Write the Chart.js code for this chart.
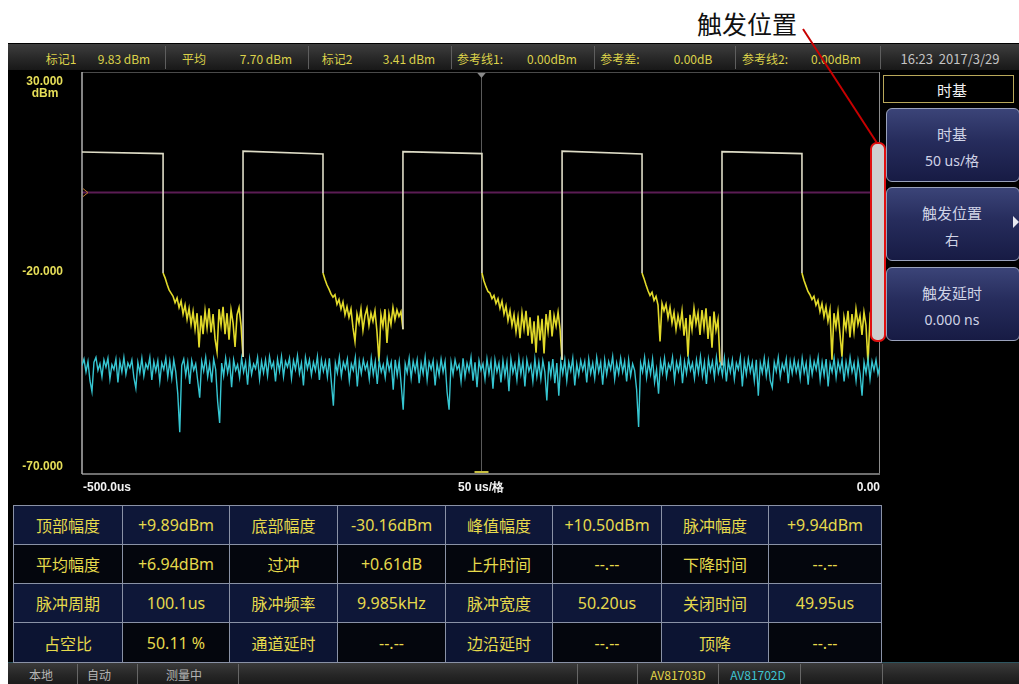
<!DOCTYPE html>
<html><head><meta charset="utf-8">
<script src="https://cdn.jsdelivr.net/npm/chart.js@4.4.1/dist/chart.umd.min.js"></script>
<style>
html,body{margin:0;padding:0;background:#fff;width:1019px;height:684px;overflow:hidden;font-family:"Noto Sans CJK SC","Noto Sans",sans-serif;}
#screen{position:absolute;left:8px;top:43px;width:1011px;height:641px;background:#000;}
#topbar{position:absolute;left:8px;top:44px;width:1011px;height:26px;background:linear-gradient(#3e3e3e,#282828 55%,#181818);}
#botbar{position:absolute;left:8px;top:662px;width:1011px;height:22px;background:linear-gradient(#3a3a3a,#262626 55%,#1a1a1a);border-top:1px solid #2e5560;}
.t{position:absolute;white-space:nowrap;transform:translate(-50%,-50%);}
.sep{position:absolute;width:1px;background:#5e5e5e;}
.cell{position:absolute;box-sizing:border-box;border:1px solid #8a92a6;color:#e6da4c;font-size:16px;display:flex;align-items:center;justify-content:center;}
.val{font-family:"Noto Sans",sans-serif;}
.btn{position:absolute;left:886px;width:134px;box-sizing:border-box;border:1.5px solid #9aa2bc;border-radius:6px;background:linear-gradient(#3b4478,#262c5c 45%,#171b44);color:#cfd2e4;font-size:15px;}
#chart{position:absolute;left:8px;top:70px;}
#label{position:absolute;left:697px;top:5px;font-size:25px;color:#111;font-family:"Noto Sans CJK SC",serif;}
svg{position:absolute;left:0;top:0;}
</style></head>
<body>
<div id="screen"></div>
<div id="topbar"></div>
<div id="botbar"></div>
<canvas id="chart" width="873" height="430"></canvas>
<div id="label">触发位置</div>
<script>
// ---------------- data ----------------
const xRangeUs = [-500, 0];
const yRangeDbm = [-70, 30];
const yTickValues = [30, -20, -70];
const yTickLabels = ['30.000', '-20.000', '-70.000'];
const yUnit = 'dBm';
const xTickValues = [-500, -250, 0];
const xTickLabels = ['-500.0us', '50 us/格', '0.00'];
const refLineDbm = 0;
const centerMarkerUs = -250;

// yellow trace (AV81703D): pulse edges and levels
const fallTimesUs = [-449.2, -349.0, -249.4, -149.1, -48.9];
const riseTimesUs = [-399.1, -298.9, -199.2, -99.0];
const pulseTopStartDbm = [10.1, 10.3, 10.2, 10.3, 10.2];
const pulseTopEndDbm = [9.7, 9.6, 9.7, 9.6, 9.7];
// samples of the off-time after each falling edge (dBm)
const tail1 = [-20,-21.2,-22.8,-24.2,-25.0,-25.8,-27.4,-26.2,-28.6,-27.0,-30.2,-28.0,-31.5,-28.8,-32.8,-29.6,-34.0,-30.0,-38.5,-30.6,-35.2,-29.4,-33.6,-28.8,-34.8,-30.2,-36.4,-39.6,-29.0,-33.0,-28.4,-35.2,-30.0,-36.6,-29.2,-32.4,-38.4,-30.4,-28.6,-33.0,-40.9];
const tail2 = [-20,-21.6,-23.0,-24.0,-25.2,-26.0,-25.4,-27.8,-26.6,-29.0,-27.2,-30.4,-28.4,-31.0,-29.0,-33.6,-37.0,-30.2,-32.4,-29.0,-34.2,-30.6,-28.8,-33.0,-30.0,-32.0,-29.4,-34.6,-42.0,-30.4,-33.2,-29.0,-37.4,-30.2,-32.8,-28.6,-31.6,-29.2,-30.8,-29.6,-34.0];
const tail3 = [-20,-22.0,-23.4,-24.6,-25.0,-26.4,-25.6,-27.6,-26.4,-28.8,-27.0,-30.2,-28.2,-31.8,-29.4,-33.0,-30.4,-34.6,-31.0,-36.2,-30.0,-33.8,-29.4,-35.6,-31.0,-37.6,-32.0,-39.8,-30.6,-36.8,-31.4,-40.0,-30.2,-34.4,-29.2,-35.8,-30.6,-33.2,-29.8,-34.0,-41.6];
const tail4 = [-20,-21.4,-23.0,-24.4,-25.6,-24.8,-26.8,-25.8,-28.0,-37.0,-27.6,-29.4,-27.8,-31.2,-28.6,-32.4,-29.8,-34.0,-30.6,-33.2,-29.4,-35.6,-31.2,-40.8,-30.4,-34.0,-28.8,-32.6,-30.0,-35.4,-29.2,-33.6,-28.8,-36.4,-30.8,-38.6,-29.6,-34.2,-31.6,-42.0,-43.0];
const tail5 = [-20,-21.8,-23.2,-24.6,-25.4,-26.6,-25.8,-28.0,-26.8,-29.6,-27.6,-30.8,-28.4,-32.0,-29.2,-41.6,-30.0,-33.4,-29.6,-35.2,-40.8,-31.0,-33.8,-29.4,-36.0,-30.2,-34.6,-29.0,-32.8,-30.6,-35.4,-29.8,-33.0,-42.4,-31.2,-34.0,-30.0,-36.2,-31.0,-33.6];

// cyan trace (AV81702D): noise floor, one sample every cyanStepUs from -500 us
const cyanStepUs = 1.25;
const cyanDbm = [
-43.0,-41.4,-44.6,-42.0,-46.8,-49.5,-42.2,-41.0,-44.2,-42.6,-45.8,-41.6,-43.4,-41.2,-46.4,-42.8,-44.0,-41.4,-47.2,-42.0,
-44.6,-41.0,-45.2,-42.4,-43.6,-41.6,-46.0,-48.7,-42.2,-44.8,-41.2,-45.6,-42.6,-43.8,-41.0,-46.6,-42.0,-44.4,-41.8,-47.0,
-42.4,-44.0,-41.2,-45.8,-42.0,-46.2,-41.6,-44.6,-50.0,-59.6,-43.0,-41.4,-45.4,-42.2,-47.6,-41.8,-44.2,-42.6,-46.8,-51.0,
-42.0,-44.4,-41.0,-45.8,-42.6,-47.2,-41.4,-44.0,-52.0,-57.3,-42.4,-45.6,-41.2,-44.8,-42.0,-48.4,-41.6,-44.2,-42.8,-46.0,
-41.2,-44.6,-42.2,-47.8,-41.4,-45.2,-42.6,-43.8,-41.0,-46.4,-42.0,-44.8,-41.6,-45.6,-40.8,-43.6,-42.2,-47.0,-41.4,-44.4,
-40.8,-45.8,-42.0,-43.4,-41.2,-46.2,-41.8,-44.0,-40.6,-45.0,-42.4,-48.0,-41.0,-43.8,-41.6,-45.4,-42.2,-44.2,-40.8,-46.6,
-41.6,-44.4,-42.0,-45.8,-41.2,-47.2,-53.0,-42.4,-44.8,-41.0,-45.6,-42.2,-43.8,-41.4,-46.8,-42.6,-44.2,-41.0,-48.2,-42.0,
-45.0,-41.6,-44.0,-42.4,-46.4,-41.2,-45.2,-42.0,-47.6,-41.8,-44.6,-42.8,-46.0,-41.4,-44.2,-42.2,-49.0,-41.6,-45.4,-42.0,
-47.8,-54.0,-42.6,-44.8,-41.2,-46.2,-42.0,-44.4,-41.6,-47.4,-42.4,-45.0,-41.0,-46.6,-42.2,-44.0,-41.8,-48.0,-42.6,-45.4,
-41.4,-44.6,-42.0,-49.6,-54.0,-42.2,-45.2,-41.6,-44.0,-42.8,-47.0,-41.2,-45.8,-42.4,-44.4,-41.0,-46.8,-42.2,-48.4,-41.8,
-44.2,-42.6,-46.4,-41.4,-45.0,-42.0,-48.8,-41.6,-44.6,-42.4,-47.2,-41.8,-45.6,-42.2,-49.4,-41.4,-44.8,-42.6,-46.6,-41.2,
-45.2,-42.0,-48.2,-41.6,-44.4,-42.8,-47.0,-41.4,-45.8,-42.2,-46.4,-41.8,-44.6,-51.7,-42.0,-45.6,-41.4,-47.4,-42.4,-50.5,
-42.0,-45.0,-41.6,-46.8,-42.2,-44.4,-41.2,-48.0,-42.6,-45.4,-41.8,-44.2,-42.0,-47.2,-41.4,-45.0,-42.4,-46.2,-41.0,-44.6,
-42.2,-47.8,-41.6,-45.2,-42.0,-44.0,-40.8,-46.4,-42.4,-45.0,-41.2,-44.6,-42.0,-47.0,-41.6,-45.6,-42.6,-44.2,-49.0,-58.3,
-42.4,-44.6,-41.0,-46.0,-42.2,-45.2,-41.4,-47.2,-44.0,-50.0,-42.0,-44.8,-41.2,-45.8,-42.6,-44.0,-41.0,-46.6,-42.2,-44.4,
-41.4,-47.4,-42.0,-45.0,-41.2,-44.2,-42.4,-46.2,-41.6,-44.8,-40.8,-45.6,-42.2,-47.6,-41.4,-44.4,-42.0,-46.0,-41.0,-44.8,
-42.6,-45.4,-41.2,-47.0,-42.0,-44.6,-41.6,-46.4,-42.4,-44.0,-41.0,-48.2,-42.0,-45.2,-41.4,-44.6,-42.2,-46.8,-41.6,-50.5,
-42.4,-44.8,-41.2,-45.6,-42.0,-46.8,-48.5,-42.2,-44.4,-41.0,-45.8,-42.6,-44.2,-41.4,-47.4,-42.0,-45.0,-41.6,-44.6,-42.2,
-46.2,-41.2,-44.8,-42.4,-47.8,-41.6,-45.2,-42.0,-44.0,-41.0,-46.6,-42.2,-45.4,-41.4,-48.2,-42.6,-44.6,-41.2,-46.0,-42.0,
-44.4,-41.6,-47.0,-42.2,-45.2,-41.0,-44.6,-42.4,-46.8,-41.8,-45.0,-50.5,-42.2,-44.8,-41.4,-46.4,-42.0,-44.2,-41.6,-45.2,
-43.0];

// status texts
const statusItems = [['标记1',61],['9.83 dBm',124],['平均',194],['7.70 dBm',266],['标记2',337],['3.41 dBm',409],['参考线1:',480],['0.00dBm',552],['参考差:',620],['0.00dB',693],['参考线2:',765],['0.00dBm',836]];
const statusSeps = [165,308,451,594,735,880];
const clockText = '16:23&nbsp;&nbsp;2017/3/29';
const tableRows = [
 ['顶部幅度','+9.89dBm','底部幅度','-30.16dBm','峰值幅度','+10.50dBm','脉冲幅度','+9.94dBm'],
 ['平均幅度','+6.94dBm','过冲','+0.61dB','上升时间','--.--','下降时间','--.--'],
 ['脉冲周期','100.1us','脉冲频率','9.985kHz','脉冲宽度','50.20us','关闭时间','49.95us'],
 ['占空比','50.11 %','通道延时','--.--','边沿延时','--.--','顶降','--.--']
];
const bottomItems = [['本地',41,'#b4b4b4'],['自动',99,'#b4b4b4'],['测量中',184,'#b4b4b4'],['AV81703D',678,'#e2d448'],['AV81702D',758,'#3ec4d2']];
const bottomSeps = [77,137,238,577,637,718,800,882];

// ---------------- layout of the HTML parts ----------------
const body = document.body;
function add(html){ body.insertAdjacentHTML('beforeend', html); }
statusItems.forEach(([s,x])=>add(`<div class="t" style="left:${x}px;top:58px;font-size:12px;color:#dcd24a">${s}</div>`));
statusSeps.forEach(x=>add(`<div class="sep" style="left:${x}px;top:46px;height:23px"></div>`));
add(`<div class="t" style="left:950px;top:58px;font-size:13px;color:#c4c4c4">${clockText}</div>`);

const colX = [13,122,229,337,445,552,661,768,881];
const rowY = [505,544,583,622,662];
tableRows.forEach((row,r)=>row.forEach((txt,c)=>{
  const isLabel = c%2===0;
  let bg = (r===0||r===2) ? '#0e1738' : (r===3 && isLabel ? '#0c1432' : '#04060d');
  add(`<div class="cell ${isLabel?'':'val'}" style="left:${colX[c]}px;top:${rowY[r]}px;width:${colX[c+1]-colX[c]+1}px;height:${rowY[r+1]-rowY[r]+1}px;background:${bg}">${txt}</div>`);
}));
bottomItems.forEach(([s,x,col])=>add(`<div class="t" style="left:${x}px;top:674px;font-size:12px;color:${col}">${s}</div>`));
bottomSeps.forEach(x=>add(`<div class="sep" style="left:${x}px;top:664px;height:20px;background:#666"></div>`));

// right menu
add(`<div style="position:absolute;left:883px;top:75px;width:131px;height:28px;box-sizing:border-box;border:1.5px solid #b9a85a;background:#000"></div>`);
add(`<div class="t" style="left:952px;top:89px;font-size:15px;color:#f2f2f2">时基</div>`);
[[108,74,'时基','50 us/格'],[187,74,'触发位置','右'],[267,74,'触发延时','0.000 ns']].forEach(([y,h,a,b])=>{
  add(`<div class="btn" style="top:${y}px;height:${h}px"></div>`);
  add(`<div class="t" style="left:952px;top:${y+25}px;font-size:15px;color:#d0d3e6">${a}</div>`);
  add(`<div class="t" style="left:952px;top:${y+52}px;font-size:14px;color:#d0d3e6;font-family:'Noto Sans','Noto Sans CJK SC'">${b}</div>`);
});
add(`<svg width="1019" height="684"><polygon points="1013,216 1019,222 1013,228" fill="#e8e8f0"/>
<rect x="871" y="143" width="14" height="198" rx="6" ry="6" fill="#cfcfcf" stroke="#e01010" stroke-width="2"/>
<line x1="803" y1="29" x2="877" y2="143" stroke="#c80000" stroke-width="2"/></svg>`);

// ---------------- chart ----------------
const tails = [tail1, tail2, tail3, tail4, tail5];
const tailEndsUs = [...riseTimesUs, xRangeUs[1]];
const yellowPoints = [];
fallTimesUs.forEach((tf,k)=>{
  const tStart = k===0 ? xRangeUs[0] : riseTimesUs[k-1];
  yellowPoints.push({x:tStart, y:pulseTopStartDbm[k]});
  yellowPoints.push({x:tf, y:pulseTopEndDbm[k]});
  const tail = tails[k];
  const step = (tailEndsUs[k]-tf)/(tail.length-1);
  tail.forEach((v,j)=>yellowPoints.push({x:tf+j*step, y:v}));
});
const cyanPoints = cyanDbm.map((v,i)=>({x:xRangeUs[0]+i*cyanStepUs, y:v}));

const PALE = '#dedcc6', YEL = '#e2da2a', CYAN = '#36c6d2';

const decor = {
  id:'decor',
  beforeDatasetsDraw(chart){
    const {ctx, chartArea:a, scales:{x,y}} = chart;
    ctx.save();
    const ry = y.getPixelForValue(refLineDbm);
    ctx.strokeStyle = 'rgba(96,30,88,0.95)'; ctx.lineWidth = 2;
    ctx.beginPath(); ctx.moveTo(a.left, ry); ctx.lineTo(a.right, ry); ctx.stroke();
    const cx = Math.round(x.getPixelForValue(centerMarkerUs))+0.5;
    ctx.strokeStyle = '#5a5a5a'; ctx.lineWidth = 1;
    ctx.beginPath(); ctx.moveTo(cx, a.top); ctx.lineTo(cx, a.bottom); ctx.stroke();
    ctx.fillStyle = '#8a8a8a';
    ctx.beginPath(); ctx.moveTo(cx-5,a.top); ctx.lineTo(cx+5,a.top); ctx.lineTo(cx,a.top+6); ctx.fill();
    ctx.fillStyle = '#c8c040';
    ctx.fillRect(cx-7, a.bottom-3, 14, 3);
    ctx.strokeStyle = '#4a4a4a';
    ctx.beginPath(); ctx.moveTo(a.left, a.top+0.5); ctx.lineTo(a.right, a.top+0.5); ctx.stroke();
    ctx.strokeStyle = '#8c8c8c';
    ctx.beginPath(); ctx.moveTo(a.right-0.5, a.top); ctx.lineTo(a.right-0.5, a.bottom); ctx.stroke();
    ctx.strokeStyle = '#6e6e6e'; ctx.lineWidth = 2;
    ctx.beginPath(); ctx.moveTo(a.left, a.bottom); ctx.lineTo(a.right, a.bottom); ctx.stroke();
    ctx.strokeStyle = '#b0b0b0'; ctx.lineWidth = 1.5;
    ctx.beginPath(); ctx.moveTo(a.left, a.top); ctx.lineTo(a.left, a.bottom); ctx.stroke();
    ctx.strokeStyle = '#c07a30'; ctx.lineWidth = 1;
    ctx.beginPath(); ctx.moveTo(a.left+1, ry-4); ctx.lineTo(a.left+6, ry); ctx.lineTo(a.left+1, ry+4); ctx.stroke();
    ctx.restore();
  },
  afterDraw(chart){
    const {ctx, chartArea:a, scales:{x,y}} = chart;
    ctx.save();
    ctx.font = 'bold 12px "Liberation Sans", Arial, sans-serif';
    ctx.fillStyle = '#e6de58';
    ctx.textAlign = 'right';
    const lx = a.left - 19;
    yTickValues.forEach((v,i)=>{
      const py = y.getPixelForValue(v);
      if (i===0){
        ctx.textBaseline='top'; ctx.fillText(yTickLabels[i], lx, py+4);
        ctx.textAlign='center'; ctx.fillText(yUnit, lx-18, py+16); ctx.textAlign='right';
      } else if (i===yTickValues.length-1){
        ctx.textBaseline='bottom'; ctx.fillText(yTickLabels[i], lx, py-1);
      } else {
        ctx.textBaseline='middle'; ctx.fillText(yTickLabels[i], lx, py-1);
      }
    });
    ctx.fillStyle = '#f2f2f2';
    ctx.textBaseline = 'middle';
    xTickValues.forEach((v,i)=>{
      const px = x.getPixelForValue(v);
      ctx.textAlign = i===0 ? 'left' : (i===xTickValues.length-1 ? 'right' : 'center');
      ctx.fillText(xTickLabels[i], px + (i===0?1:0), a.bottom+14);
    });
    ctx.restore();
  }
};

new Chart(document.getElementById('chart'), {
  type:'line',
  data:{datasets:[
    {label:'AV81702D', data:cyanPoints, borderColor:CYAN, borderWidth:1.4, pointRadius:0, tension:0},
    {label:'AV81703D', data:yellowPoints, borderColor:YEL, borderWidth:1.6, pointRadius:0, tension:0,
      segment:{borderColor:c=>Math.max(c.p0.parsed.y,c.p1.parsed.y)>0?PALE:YEL}}
  ]},
  options:{
    responsive:false, animation:false, devicePixelRatio:1,
    layout:{padding:{left:74,right:1,top:2,bottom:26}},
    scales:{
      x:{type:'linear', min:xRangeUs[0], max:xRangeUs[1], display:false},
      y:{type:'linear', min:yRangeDbm[0], max:yRangeDbm[1], display:false}
    },
    plugins:{legend:{display:false}, tooltip:{enabled:false}}
  },
  plugins:[decor]
});
</script>
</body></html>
